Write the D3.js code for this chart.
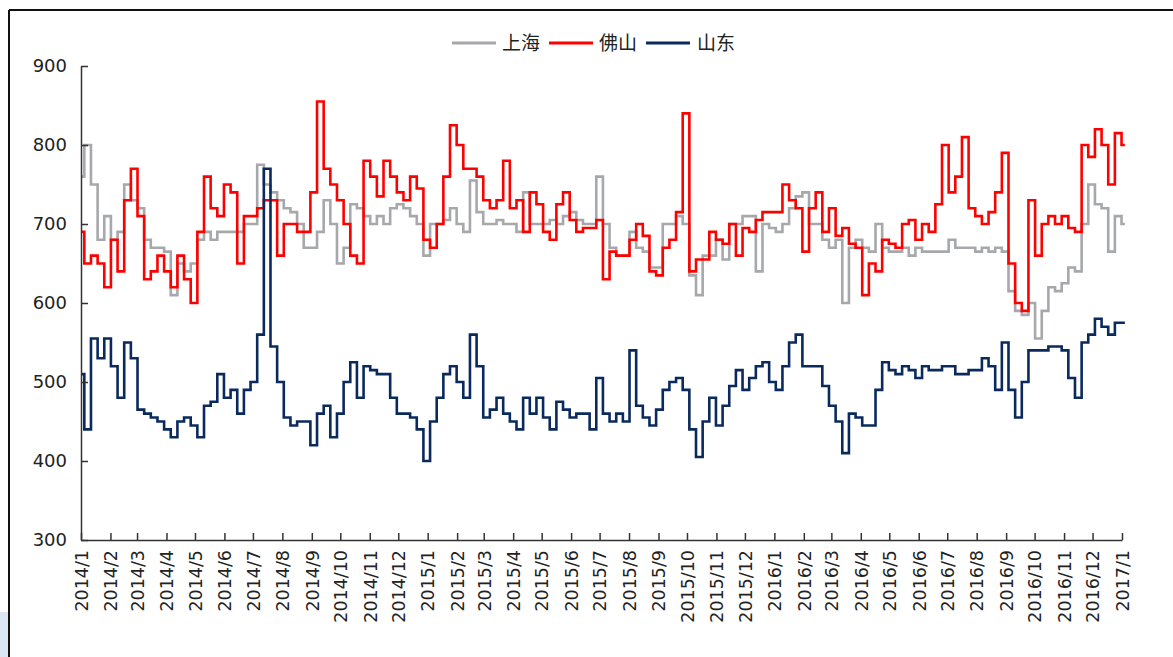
<!DOCTYPE html>
<html>
<head>
<meta charset="utf-8">
<script src="https://cdn.jsdelivr.net/npm/d3@7"></script>
<style>
  html, body { margin: 0; padding: 0; background: #fff; }
  svg { display: block; }
</style>
</head>
<body>
<svg id="chart" width="1173" height="657"></svg>
<script>
// ---- data (weekly readings, first week = 2014-01-01) ----
const firstWeek = "2014-01-01";
const seriesNames = ["上海", "佛山", "山东"];
const seriesColors = ["#A6A8AB", "#FF0000", "#0A2A5E"];
const yTicks = [300, 400, 500, 600, 700, 800, 900];

const shanghai = [
760,800,750,680,710,680,690,750,730,720,680,670,670,665,610,650,640,650,680,690,
680,690,690,690,690,700,700,775,750,740,730,720,715,700,670,670,690,730,700,650,
670,725,720,710,700,710,700,720,725,720,710,700,660,700,700,705,720,700,690,755,
715,700,700,705,700,700,690,740,700,700,700,705,700,710,715,705,700,700,760,700,
670,660,660,690,670,665,645,645,700,700,710,700,635,610,660,660,680,655,700,700,
710,710,640,700,695,690,700,720,735,740,700,700,680,670,680,600,670,680,670,665,
700,670,665,665,670,660,670,665,665,665,665,680,670,670,670,665,670,665,670,665,
615,590,585,600,555,590,620,615,625,645,640,700,750,725,720,665,710,700];

const foshan = [
690,650,660,650,620,680,640,730,770,710,630,640,660,640,620,660,630,600,690,760,
720,710,750,740,650,710,710,720,730,730,660,700,700,690,690,740,855,770,750,730,
700,660,650,780,760,735,780,760,740,730,760,745,680,670,700,760,825,800,770,770,
760,730,720,730,780,720,730,690,740,725,690,680,725,740,705,690,695,695,705,630,
665,660,660,680,700,685,640,635,670,680,715,840,640,655,655,690,680,675,700,660,
695,690,705,715,715,715,750,730,720,665,720,740,690,720,685,695,675,670,610,650,
640,680,675,670,700,705,680,700,690,725,800,740,760,810,720,710,700,715,740,790,
650,600,590,730,660,700,710,700,710,695,690,800,785,820,800,750,815,800];

const shandong = [
510,440,555,530,555,520,480,550,530,465,460,455,450,440,430,450,455,445,430,470,
475,510,480,490,460,490,500,560,770,545,500,455,445,450,450,420,460,470,430,460,
500,525,480,520,515,510,510,480,460,460,455,440,400,450,480,510,520,500,480,560,
520,455,465,480,460,450,440,480,460,480,455,440,475,465,455,460,460,440,505,460,
450,460,450,540,470,455,445,465,490,500,505,490,440,405,450,480,445,470,495,515,
490,505,520,525,500,490,520,550,560,520,520,520,495,470,450,410,460,455,445,445,
490,525,515,510,520,515,505,520,515,515,520,520,510,510,515,515,530,520,490,550,
490,455,500,540,540,540,545,545,540,505,480,550,560,580,570,560,575,575];

const seriesValues = [shanghai, foshan, shandong];

// ---- layout ----
const svg = d3.select("#chart");
const W = 1173, H = 657;
const plot = { left: 81, right: 1122, top: 66, bottom: 540 };

// decorative frame of the original picture
svg.append("rect").attr("x", 0).attr("y", 612).attr("width", 8).attr("height", 45).attr("fill", "#DCE6F4");
svg.append("line").attr("x1", 9).attr("y1", 10).attr("x2", W).attr("y2", 10)
  .attr("stroke", "#111").attr("stroke-width", 2);
svg.append("line").attr("x1", 9).attr("y1", 10).attr("x2", 9).attr("y2", H)
  .attr("stroke", "#111").attr("stroke-width", 2);

const parse = d3.timeParse("%Y-%m-%d");
const start = parse(firstWeek);
const dates = shanghai.map((_, i) => d3.timeDay.offset(start, 7 * i));

const x = d3.scaleTime()
  .domain([parse("2014-01-01"), parse("2017-01-01")])
  .range([plot.left, plot.right]);
const y = d3.scaleLinear().domain([300, 900]).range([plot.bottom, plot.top]);

// ---- lines ----
const line = d3.line()
  .curve(d3.curveStep)
  .x((d, i) => x(dates[i]))
  .y(d => y(d));

seriesValues.forEach((vals, k) => {
  svg.append("path")
    .datum(vals)
    .attr("fill", "none")
    .attr("stroke", seriesColors[k])
    .attr("stroke-width", 2.6)
    .attr("stroke-linejoin", "miter")
    .attr("d", line);
});

// ---- axes ----
const axisColor = "#333";
const yAxis = d3.axisLeft(y).tickValues(yTicks).tickSize(-7).tickSizeOuter(0).tickPadding(14);
const gy = svg.append("g").attr("transform", `translate(${plot.left},0)`).call(yAxis);
gy.select(".domain").attr("stroke", axisColor).attr("stroke-width", 1.5);
gy.selectAll(".tick line").attr("stroke", axisColor).attr("stroke-width", 1.5);
gy.selectAll(".tick text")
  .attr("font-family", "DejaVu Sans, sans-serif")
  .attr("font-size", 18).attr("fill", "#222");

const xAxis = d3.axisBottom(x)
  .ticks(d3.timeMonth.every(1))
  .tickFormat(d3.timeFormat("%Y/%-m"))
  .tickSize(-7).tickSizeOuter(0);
const gx = svg.append("g").attr("transform", `translate(0,${plot.bottom})`).call(xAxis);
gx.select(".domain").attr("stroke", axisColor).attr("stroke-width", 1.5);
gx.selectAll(".tick line").attr("stroke", axisColor).attr("stroke-width", 1.5);
gx.selectAll(".tick text")
  .attr("font-family", "DejaVu Sans, sans-serif")
  .attr("font-size", 17.5).attr("fill", "#222")
  .attr("text-anchor", "end")
  .attr("transform", "rotate(-90)")
  .attr("x", -10).attr("y", 0).attr("dy", "0.36em");

// ---- legend ----
const legendItems = [
  { lx: 452, tx: 502 },
  { lx: 549, tx: 599 },
  { lx: 646, tx: 697 }
];
const legY = 43;
seriesNames.forEach((name, k) => {
  const it = legendItems[k];
  svg.append("line")
    .attr("x1", it.lx).attr("x2", it.lx + 44)
    .attr("y1", legY).attr("y2", legY)
    .attr("stroke", seriesColors[k]).attr("stroke-width", 3);
  svg.append("text")
    .attr("x", it.tx).attr("y", legY).attr("dy", "0.36em")
    .attr("font-family", "Noto Sans CJK SC, sans-serif")
    .attr("font-size", 19).attr("fill", "#222")
    .text(name);
});
</script>
</body>
</html>
